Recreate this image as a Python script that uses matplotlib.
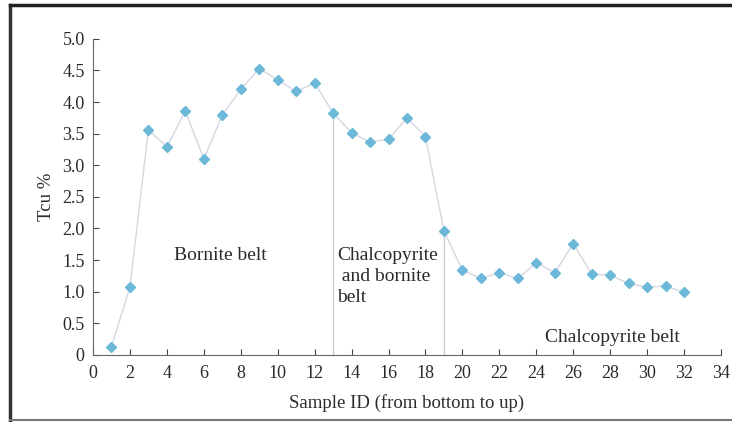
import matplotlib.pyplot as plt
from matplotlib.lines import Line2D

plt.rcParams['font.family'] = ['Liberation Serif', 'DejaVu Serif']

sample_id = list(range(1, 33))
tcu = [0.13, 1.07, 3.56, 3.29, 3.86, 3.10, 3.79, 4.20, 4.53, 4.35,
       4.17, 4.30, 3.83, 3.51, 3.37, 3.41, 3.75, 3.45, 1.96, 1.34,
       1.21, 1.30, 1.21, 1.46, 1.30, 1.76, 1.28, 1.26, 1.13, 1.07,
       1.09, 0.99]
boundaries = [13, 19]

fig = plt.figure(figsize=(7.32, 4.22), dpi=100)
ax = fig.add_axes([0.127, 0.159, 0.858, 0.749])

ax.plot(sample_id, tcu, color='#d6d6e2', lw=1.0, zorder=2)
ax.plot(sample_id, tcu, 'D', color='#6cb8d8', ms=5.5, mec='#6cb8d8', zorder=3)

for b in boundaries:
    ax.plot([b, b], [0, tcu[sample_id.index(b)]], color='#c8ccd4', lw=1.0, zorder=1)

ax.set_xlim(0, 34)
ax.set_ylim(0, 5)
ax.set_xticks(range(0, 35, 2))
ax.set_yticks([0, 0.5, 1, 1.5, 2, 2.5, 3, 3.5, 4, 4.5, 5])
ax.set_yticklabels(['0', '0.5', '1.0', '1.5', '2.0', '2.5', '3.0', '3.5', '4.0', '4.5', '5.0'])
ax.tick_params(direction='in', length=4, labelsize=13, colors='#444444', labelcolor='#2a2a2a')
ax.tick_params(axis='y', pad=6)
ax.tick_params(axis='x', pad=7)
ax.spines['top'].set_visible(False)
ax.spines['right'].set_visible(False)
for s in ('left', 'bottom'):
    ax.spines[s].set_color('#666666')

ax.set_xlabel('Sample ID (from bottom to up)', fontsize=13.5, color='#2a2a2a', labelpad=9)
ax.set_ylabel('Tcu %', fontsize=13.5, color='#2a2a2a', labelpad=5)

ax.text(6.9, 1.57, 'Bornite belt', fontsize=14, color='#2a2a2a', ha='center', va='center')
ax.text(13.2, 1.70, 'Chalcopyrite\n and bornite\nbelt', fontsize=14, color='#2a2a2a',
        ha='left', va='top', linespacing=1.3)
ax.text(28.1, 0.28, 'Chalcopyrite belt', fontsize=14, color='#2a2a2a', ha='center', va='center')

# scanned frame
fig.add_artist(Line2D([10/732, 10/732], [1 - 5/422, 1 - 420/422], color='#333333', lw=2.5))
fig.add_artist(Line2D([10/732, 1], [1 - 5/422, 1 - 5/422], color='#222222', lw=2.5))
fig.add_artist(Line2D([10/732, 1], [1 - 420/422, 1 - 420/422], color='#777777', lw=1.5))

fig.savefig('out.png', dpi=100)
